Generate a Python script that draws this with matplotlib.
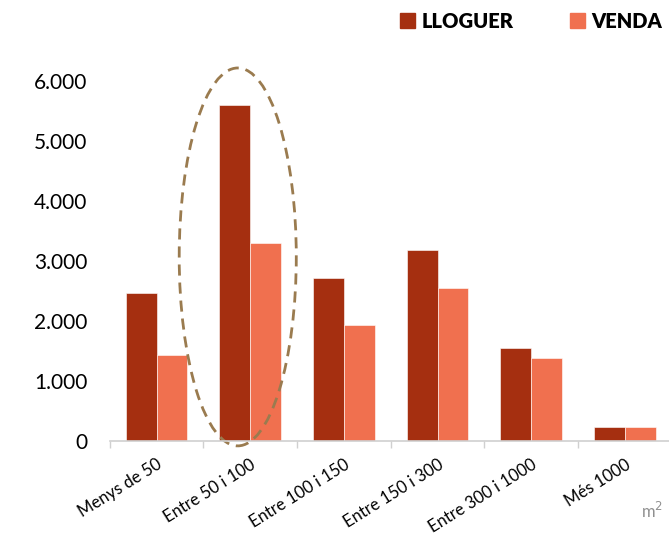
import matplotlib
matplotlib.use("Agg")
import matplotlib.pyplot as plt
from matplotlib.patches import Ellipse, Patch
import numpy as np

plt.rcParams['font.family'] = ['Lato', 'DejaVu Sans']

categories = ["Menys de 50", "Entre 50 i 100", "Entre 100 i 150",
              "Entre 150 i 300", "Entre 300 i 1000", "Més 1000"]
lloguer = [2470, 5600, 2720, 3190, 1550, 230]
venda = [1430, 3300, 1930, 2550, 1380, 230]
yticks = [0, 1000, 2000, 3000, 4000, 5000, 6000]
ytick_labels = ["0", "1.000", "2.000", "3.000", "4.000", "5.000", "6.000"]

c_llog = "#A52F10"
c_vend = "#F0704F"

fig = plt.figure(figsize=(6.69, 5.34), dpi=100)
ax = fig.add_axes([0.164, 0.174, 0.84, 0.674])

x = np.arange(len(categories))
w = 0.33
ax.bar(x - w/2, lloguer, w, color=c_llog, edgecolor="white", linewidth=0.4)
ax.bar(x + w/2, venda, w, color=c_vend, edgecolor="white", linewidth=0.4)

ax.set_xlim(-0.5, len(categories) - 0.5)
ax.set_ylim(0, 6000)
ax.set_yticks(yticks)
ax.set_yticklabels(ytick_labels, fontsize=15)
ax.tick_params(axis='y', length=0, pad=16)

ax.set_xticks(x)
ax.set_xticklabels(categories, rotation=32, ha='right', rotation_mode='anchor', fontsize=12)
ax.tick_params(axis='x', which='major', length=0, pad=11)
ax.set_xticks(np.arange(len(categories) + 1) - 0.5, minor=True)
ax.tick_params(axis='x', which='minor', length=5, color="#D0D0D0", width=1)

for s in ['top', 'right', 'left']:
    ax.spines[s].set_visible(False)
ax.spines['bottom'].set_color("#D0D0D0")
ax.spines['bottom'].set_linewidth(1.2)

# highlight the 50-100 group
ell = Ellipse((0.867, 3070), 1.25, 6300, fill=False, edgecolor="#9A7B4F",
              linestyle=(0, (4, 2.5)), linewidth=2, clip_on=False)
ax.add_patch(ell)

handles = [Patch(color=c_llog), Patch(color=c_vend)]
fig.legend(handles, ["LLOGUER", "VENDA"], loc='upper right', bbox_to_anchor=(1.016, 1.012),
           ncol=2, frameon=False, prop={'weight': 'heavy', 'size': 14.5},
           handlelength=0.75, handleheight=0.75, handletextpad=0.3, columnspacing=2.8)

fig.text(0.958, 0.03, "m$^2$", color="#909090", fontsize=12, ha='left')

fig.savefig("out.png", dpi=100)
